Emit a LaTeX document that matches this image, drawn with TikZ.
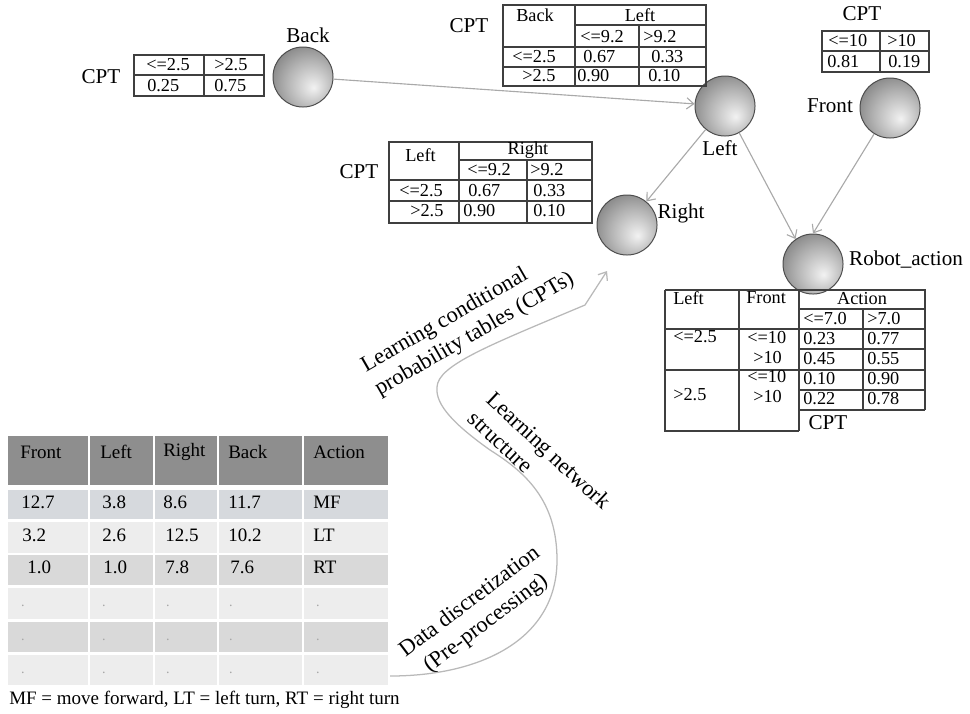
\documentclass[tikz,border=0pt]{standalone}
\usepackage{fontspec}
\setmainfont{Liberation Serif}
\usetikzlibrary{arrows.meta}

\definecolor{linkgray}{HTML}{A9A9A9}
\definecolor{rulegray}{HTML}{3F3F3F}
\definecolor{headgray}{HTML}{8E8E8E}
\definecolor{rowblue}{HTML}{D6D9DD}
\definecolor{rowdark}{HTML}{D9D9D9}
\definecolor{rowlight}{HTML}{EDEDED}

\pgfdeclareradialshading{sphereshade}{\pgfpoint{9bp}{-9bp}}{%
  color(0bp)=(gray!10); color(8bp)=(gray!30); color(20bp)=(gray!60);
  color(35bp)=(black!50); color(50bp)=(black!60); color(65bp)=(black!66)}

\tikzset{
  ball/.style={circle, minimum size=1.5cm, inner sep=0pt, draw=gray!60!black,
    line width=0.7pt, shading=sphereshade},
  lbl/.style={font=\fontsize{15}{17}\selectfont, inner sep=0pt},
  cpt/.style={font=\fontsize{13}{15}\selectfont, inner sep=0pt, anchor=west},
  cptrule/.style={draw=rulegray, line width=0.9pt},
  link/.style={draw=linkgray, line width=0.8pt, -{Straight Barb[length=5pt,width=8pt]}},
  datatext/.style={font=\fontsize{13.5}{15}\selectfont, inner sep=0pt, anchor=west},
  datadot/.style={font=\fontsize{10}{12}\selectfont, text=gray!70, inner sep=0pt},
  flow/.style={font=\fontsize{16}{19}\selectfont, inner sep=0pt}
}

\begin{document}
\begin{tikzpicture}[x=0.025cm, y=-0.025cm]
  \useasboundingbox (0,0) rectangle (970,713);

  % Network nodes
  \node[ball] (back) at (303,77) {};
  \node[ball] (left) at (725,106) {};
  \node[ball] (front) at (890,108) {};
  \node[ball] (right) at (627,225) {};
  \node[ball] (action) at (813,264) {};

  \node[lbl] (backlbl) at (308,35) {Back};
  \node[lbl] (leftlbl) at (720,148) {Left};
  \node[lbl] (frontlbl) at (830,106) {Front};
  \node[lbl] (rightlbl) at (681,213) {Right};
  \node[lbl] (actionlbl) at (906,260) {Robot\_action};

  % Links
  \draw[link] (back) -- (left);
  \draw[link] (left) -- (right);
  \draw[link] (left) -- (action.125);
  \draw[link] (front) -- (action.north);

  % CPT of Back
  \node[lbl] (backcpt) at (101,77) {CPT};
  \draw[cptrule] (134,55) rectangle (264,96);
  \draw[cptrule] (134,75) -- (264,75) (204,55) -- (204,96);
  \node[cpt] (bk-11) at (146,65) {<=2.5};
  \node[cpt] (bk-12) at (214,65) {>2.5};
  \node[cpt] (bk-21) at (147,86) {0.25};
  \node[cpt] (bk-22) at (214,86) {0.75};

  % CPT of Left
  \node[lbl] (leftcpt) at (469,26) {CPT};
  \draw[cptrule] (503,5) rectangle (706,86);
  \draw[cptrule] (575,5) -- (575,86) (639,25) -- (639,86)
    (575,25) -- (706,25) (503,47) -- (706,47) (503,67) -- (706,67);
  \node[cpt] (lt-h1) at (516,15) {Back};
  \node[cpt, anchor=center] (lt-h2) at (640,15) {Left};
  \node[cpt] (lt-s1) at (580,37) {<=9.2};
  \node[cpt] (lt-s2) at (643,37) {>9.2};
  \node[cpt] (lt-11) at (512,57) {<=2.5};
  \node[cpt] (lt-12) at (583,57) {0.67};
  \node[cpt] (lt-13) at (651,57) {0.33};
  \node[cpt] (lt-21) at (522,76) {>2.5};
  \node[cpt] (lt-22) at (577,76) {0.90};
  \node[cpt] (lt-23) at (648,76) {0.10};

  % CPT of Front
  \node[lbl] (frontcpt) at (862,14) {CPT};
  \draw[cptrule] (822,31) rectangle (929,72);
  \draw[cptrule] (822,51) -- (929,51) (880,31) -- (880,72);
  \node[cpt] (ft-11) at (828,41) {<=10};
  \node[cpt] (ft-12) at (887,41) {>10};
  \node[cpt] (ft-21) at (827,62) {0.81};
  \node[cpt] (ft-22) at (888,62) {0.19};

  % CPT of Right
  \node[lbl] (rightcpt) at (359,172) {CPT};
  \draw[cptrule] (389,142) rectangle (592,223);
  \draw[cptrule] (459,142) -- (459,223) (527,160) -- (527,223)
    (459,160) -- (592,160) (389,180) -- (592,180) (389,201) -- (592,201);
  \node[cpt] (rt-h1) at (405,155) {Left};
  \node[cpt, anchor=center] (rt-h2) at (528,150) {Right};
  \node[cpt] (rt-s1) at (467,170) {<=9.2};
  \node[cpt] (rt-s2) at (530,170) {>9.2};
  \node[cpt] (rt-11) at (399,191) {<=2.5};
  \node[cpt] (rt-12) at (468,191) {0.67};
  \node[cpt] (rt-13) at (533,191) {0.33};
  \node[cpt] (rt-21) at (410,211) {>2.5};
  \node[cpt] (rt-22) at (463,211) {0.90};
  \node[cpt] (rt-23) at (533,211) {0.10};

  % CPT of Robot_action
  \node[lbl] (actioncpt) at (828,423) {CPT};
  \draw[cptrule] (665,290) -- (925,290) -- (925,410) (665,290) -- (665,431) -- (799,431)
    (739,290) -- (739,431) (799,290) -- (799,431) (863,309) -- (863,410)
    (799,309) -- (925,309) (665,329) -- (925,329) (799,349) -- (925,349)
    (665,370) -- (925,370) (799,390) -- (925,390) (799,410) -- (925,410);
  \node[cpt] (ac-h1) at (673,298) {Left};
  \node[cpt] (ac-h2) at (746,298) {Front};
  \node[cpt, anchor=center] (ac-h3) at (862,299) {Action};
  \node[cpt] (ac-s1) at (803,319) {<=7.0};
  \node[cpt] (ac-s2) at (867,319) {>7.0};
  \node[cpt] (ac-l1) at (673,337) {<=2.5};
  \node[cpt] (ac-l2) at (673,395) {>2.5};
  \node[cpt] (ac-f1) at (747,337) {<=10};
  \node[cpt] (ac-f2) at (753,357) {>10};
  \node[cpt] (ac-f3) at (747,376) {<=10};
  \node[cpt] (ac-f4) at (753,396) {>10};
  \foreach \pa/\pb/\yy [count=\r] in {0.23/0.77/339, 0.45/0.55/359, 0.10/0.90/379, 0.22/0.78/399} {
    \node[cpt] (ac-\r1) at (803,\yy) {\pa};
    \node[cpt] (ac-\r2) at (867,\yy) {\pb};
  }

  % Data table
  \foreach \xa/\xb in {8/88, 90/153, 155/217, 219/302, 304/388}
    \fill[headgray] (\xa,436) rectangle (\xb,485);
  \foreach \ya/\yb/\col in {490/519/rowblue, 522/553/rowlight, 555/585/rowdark,
      588/619/rowlight, 622/652/rowdark, 655/685/rowlight}
    \foreach \xa/\xb in {8/88, 90/153, 155/217, 219/302, 304/388}
      \fill[\col] (\xa,\ya) rectangle (\xb,\yb);

  \foreach \txt/\xx [count=\c] in {Front/20, Left/100, Right/163, Back/228, Action/313}
    \node[datatext] (hd-\c) at (\xx,452) {\txt};
  \foreach \txt/\xx [count=\c] in {12.7/21, 3.8/102, 8.6/163, 11.7/228, MF/313}
    \node[datatext] (ra-\c) at (\xx,502) {\txt};
  \foreach \txt/\xx [count=\c] in {3.2/22, 2.6/102, 12.5/165, 10.2/228, LT/313}
    \node[datatext] (rb-\c) at (\xx,535) {\txt};
  \foreach \txt/\xx [count=\c] in {1.0/27, 1.0/103, 7.8/165, 7.6/230, RT/313}
    \node[datatext] (rc-\c) at (\xx,567) {\txt};
  \foreach \yy [count=\r] in {606,640,673}
    \foreach \xx [count=\c] in {23,104,168,231,318}
      \node[datadot] (dot-\r-\c) at (\xx,\yy) {.};

  \node[datatext] (legend) at (9,700) {MF = move forward, LT = left turn, RT = right turn};

  % Learning flow
  \coordinate (flowstart) at (390,676);
  \coordinate (flowend) at (607,271);
  \draw[link, draw=gray!55, line width=0.9pt] (flowstart)
    .. controls (480,676) and (557,640) .. (557,560)
    .. controls (557,500) and (525,472) .. (490,450)
    .. controls (455,425) and (435,405) .. (437,387)
    .. controls (438,365) and (490,345) .. (585,305) -- (flowend);

  \node[flow, rotate=37, align=center] (discret) at (478,613)
    {Data discretization\\(Pre-processing)};
  \node[flow, rotate=-43, align=left] (structlearn) at (540,460)
    {Learning network\\structure};
  \node[flow, rotate=30, align=left] (cptlearn) at (468,323)
    {Learning conditional\\probability tables (CPTs)};
\end{tikzpicture}
\end{document}
